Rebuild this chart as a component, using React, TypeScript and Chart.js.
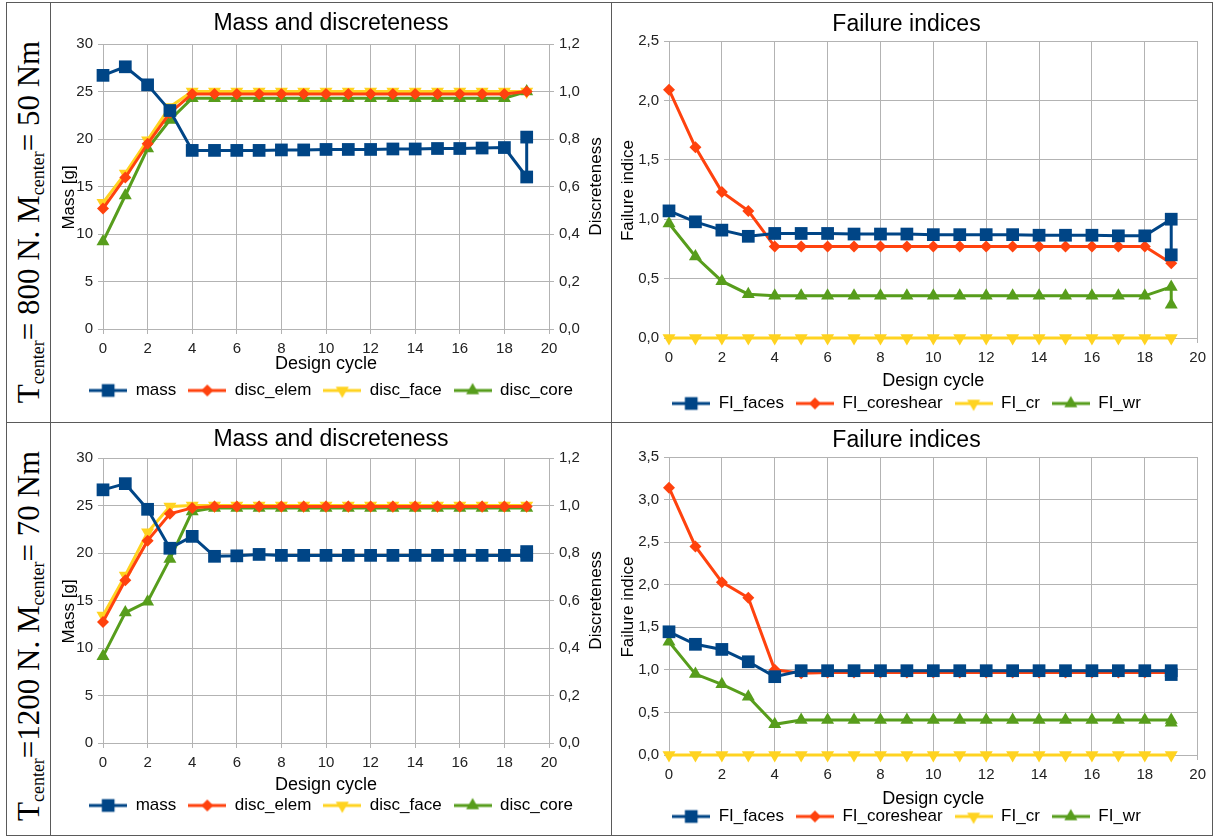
import React, { useEffect, useRef } from "react";
import { Chart, registerables } from "chart.js";
Chart.register(...registerables);

const BLUE = "#004586";
const ORANGE = "#ff420e";
const YELLOW = "#ffd320";
const GREEN = "#579d1c";
const GRID = "#b3b3b3";
const FONT = "'Liberation Sans', Arial, sans-serif";

// ---------- data ----------
const cycles = [0, 1, 2, 3, 4, 5, 6, 7, 8, 9, 10, 11, 12, 13, 14, 15, 16, 17, 18, 19];
const cyclesDup = [0, 1, 2, 3, 4, 5, 6, 7, 8, 9, 10, 11, 12, 13, 14, 15, 16, 17, 18, 19, 19];

// top-left: Mass and discreteness (800 N, 50 Nm)
const tlMass = [26.7, 27.6, 25.7, 23.0, 18.8, 18.8, 18.8, 18.8, 18.85, 18.85, 18.9, 18.9, 18.9, 18.95, 18.95, 19.0, 19.0, 19.05, 19.1, 16.0, 20.2];
const tlDiscElem = [0.507, 0.638, 0.78, 0.91, 0.99, 0.99, 0.99, 0.99, 0.99, 0.99, 0.99, 0.99, 0.99, 0.99, 0.99, 0.99, 0.99, 0.99, 0.99, 1.0];
const tlDiscFace = [0.532, 0.655, 0.795, 0.935, 1.0, 1.0, 1.0, 1.0, 1.0, 1.0, 1.0, 1.0, 1.0, 1.0, 1.0, 1.0, 1.0, 1.0, 1.0, 1.0];
const tlDiscCore = [0.368, 0.562, 0.76, 0.88, 0.972, 0.972, 0.972, 0.972, 0.972, 0.972, 0.972, 0.972, 0.972, 0.972, 0.972, 0.972, 0.972, 0.972, 0.972, 1.0];

// top-right: Failure indices (800 N, 50 Nm)
const trFaces = [1.07, 0.978, 0.908, 0.856, 0.88, 0.88, 0.88, 0.875, 0.875, 0.875, 0.87, 0.87, 0.87, 0.87, 0.865, 0.865, 0.865, 0.86, 0.86, 1.0, 0.7];
const trCoreshear = [2.09, 1.605, 1.23, 1.07, 0.77, 0.77, 0.77, 0.77, 0.77, 0.77, 0.77, 0.77, 0.77, 0.77, 0.77, 0.77, 0.77, 0.77, 0.77, 0.63];
const trCr = [0, 0, 0, 0, 0, 0, 0, 0, 0, 0, 0, 0, 0, 0, 0, 0, 0, 0, 0, 0];
const trWr = [0.964, 0.686, 0.478, 0.369, 0.355, 0.355, 0.355, 0.355, 0.355, 0.355, 0.355, 0.355, 0.355, 0.355, 0.355, 0.355, 0.355, 0.355, 0.355, 0.43, 0.28];

// bottom-left: Mass and discreteness (1200 N, 70 Nm)
const blMass = [26.65, 27.3, 24.6, 20.5, 21.75, 19.65, 19.7, 19.85, 19.75, 19.75, 19.75, 19.75, 19.75, 19.75, 19.75, 19.75, 19.75, 19.75, 19.75, 19.75, 20.15];
const blDiscElem = [0.51, 0.685, 0.852, 0.965, 0.99, 0.996, 0.996, 0.996, 0.996, 0.996, 0.996, 0.996, 0.996, 0.996, 0.996, 0.996, 0.996, 0.996, 0.996, 0.996];
const blDiscFace = [0.537, 0.705, 0.887, 0.996, 1.0, 1.0, 1.0, 1.0, 1.0, 1.0, 1.0, 1.0, 1.0, 1.0, 1.0, 1.0, 1.0, 1.0, 1.0, 1.0];
const blDiscCore = [0.365, 0.549, 0.595, 0.775, 0.975, 0.99, 0.99, 0.99, 0.99, 0.99, 0.99, 0.99, 0.99, 0.99, 0.99, 0.99, 0.99, 0.99, 0.99, 0.99];

// bottom-right: Failure indices (1200 N, 70 Nm)
const brFaces = [1.447, 1.3, 1.24, 1.095, 0.92, 0.99, 0.99, 0.99, 0.99, 0.99, 0.99, 0.99, 0.99, 0.99, 0.99, 0.99, 0.99, 0.99, 0.99, 0.99, 0.945];
const brCoreshear = [3.14, 2.45, 2.03, 1.846, 1.0, 0.96, 0.97, 0.97, 0.97, 0.97, 0.97, 0.97, 0.97, 0.97, 0.97, 0.97, 0.97, 0.97, 0.97, 0.97];
const brCr = [0, 0, 0, 0, 0, 0, 0, 0, 0, 0, 0, 0, 0, 0, 0, 0, 0, 0, 0, 0];
const brWr = [1.33, 0.95, 0.83, 0.685, 0.36, 0.41, 0.41, 0.41, 0.41, 0.41, 0.41, 0.41, 0.41, 0.41, 0.41, 0.41, 0.41, 0.41, 0.41, 0.41, 0.38];

const massLabels = ["mass", "disc_elem", "disc_face", "disc_core"];
const fiLabels = ["FI_faces", "FI_coreshear", "FI_cr", "FI_wr"];

// ---------- helpers ----------
type Series = { label: string; xs: number[]; ys: number[]; color: string; style: string; rot: number; r: number; axis: string };

function drawMarker(ctx: CanvasRenderingContext2D, style: string, rot: number, r: number, x: number, y: number) {
  ctx.beginPath();
  if (style === "rect") {
    const s = Math.SQRT1_2 * r;
    ctx.rect(x - s, y - s, 2 * s, 2 * s);
  } else if (style === "rectRot") {
    ctx.moveTo(x, y - r);
    ctx.lineTo(x + r, y);
    ctx.lineTo(x, y + r);
    ctx.lineTo(x - r, y);
    ctx.closePath();
  } else {
    let a = (rot * Math.PI) / 180;
    for (let i = 0; i < 3; i++) {
      const px = x + Math.sin(a) * r;
      const py = y - Math.cos(a) * r;
      if (i === 0) ctx.moveTo(px, py);
      else ctx.lineTo(px, py);
      a += (2 * Math.PI) / 3;
    }
    ctx.closePath();
  }
  ctx.fill();
}

function makeIcon(s: Series) {
  const c = document.createElement("canvas");
  c.width = 38;
  c.height = 18;
  const ctx = c.getContext("2d")!;
  ctx.strokeStyle = s.color;
  ctx.lineWidth = 3;
  ctx.beginPath();
  ctx.moveTo(0, 9);
  ctx.lineTo(38, 9);
  ctx.stroke();
  ctx.fillStyle = s.color;
  drawMarker(ctx, s.style, s.rot, s.r, 19, 9);
  return c;
}

const fmtComma = (v: number) => v.toFixed(1).replace(".", ",");

type AxisSpec = { min: number; max: number; step: number; title: string; titleSize: number; comma: boolean; width: number; titleX: number; titleShift: number };

type PanelSpec = {
  title: string;
  pt: number;
  titlePadBottom: number;
  pl: number;
  pr: number;
  pb: number;
  hX: number;
  xTitlePad: number;
  yLeft: AxisSpec;
  yRight?: AxisSpec;
  series: Series[];
};

function buildConfig(p: PanelSpec): any {
  const icons = p.series.map(makeIcon);
  const scales: any = {
    x: {
      type: "linear",
      min: 0,
      max: 20,
      ticks: { stepSize: 2, color: "#222", font: { size: 15, family: FONT }, padding: 6, maxRotation: 0 },
      grid: { color: GRID, tickLength: 5, lineWidth: 1 },
      border: { color: GRID },
      title: { display: true, text: "Design cycle", color: "#000", font: { size: 18, family: FONT }, padding: { top: 0, bottom: p.xTitlePad } },
      afterFit: (s: any) => { s.height = p.hX; },
    },
    y: {
      type: "linear",
      position: "left",
      min: p.yLeft.min,
      max: p.yLeft.max,
      ticks: {
        stepSize: p.yLeft.step,
        color: "#222",
        font: { size: 15, family: FONT },
        padding: 5,
        callback: (v: number) => (p.yLeft.comma ? fmtComma(v) : String(v)),
      },
      grid: { color: GRID, tickLength: 5 },
      border: { color: GRID },
      title: { display: false },
      afterFit: (s: any) => { s.width = p.yLeft.width; },
    },
  };
  if (p.yRight) {
    const yr = p.yRight;
    scales.y1 = {
      type: "linear",
      position: "right",
      min: yr.min,
      max: yr.max,
      ticks: {
        stepSize: yr.step,
        color: "#222",
        font: { size: 15, family: FONT },
        padding: 5,
        callback: (v: number) => (yr.comma ? fmtComma(v) : String(v)),
      },
      grid: { color: GRID, tickLength: 5, drawOnChartArea: false },
      border: { color: GRID },
      title: { display: false },
      afterFit: (s: any) => { s.width = yr.width; },
    };
  }
  // axis titles, both read bottom-to-top as in the original
  const axisTitlePlugin = {
    id: "axisTitles",
    afterDraw(chart: any) {
      const ctx = chart.ctx;
      const midY = (chart.chartArea.top + chart.chartArea.bottom) / 2;
      const drawV = (text: string, x: number, y: number, size: number) => {
        ctx.save();
        ctx.translate(x, y);
        ctx.rotate(-Math.PI / 2);
        ctx.fillStyle = "#000";
        ctx.font = `${size}px ${FONT}`;
        ctx.textAlign = "center";
        ctx.textBaseline = "middle";
        ctx.fillText(text, 0, 0);
        ctx.restore();
      };
      const yl = chart.scales.y;
      drawV(p.yLeft.title, yl.left + p.yLeft.titleX, midY + p.yLeft.titleShift, p.yLeft.titleSize);
      if (p.yRight) {
        const s = chart.scales.y1;
        drawV(p.yRight.title, s.right - p.yRight.titleX, midY + p.yRight.titleShift, p.yRight.titleSize);
      }
    },
  };
  return {
    type: "scatter",
    data: {
      datasets: p.series.map((s) => ({
        label: s.label,
        data: s.xs.map((x, i) => ({ x, y: s.ys[i] })),
        showLine: true,
        clip: false,
        borderColor: s.color,
        backgroundColor: s.color,
        borderWidth: 3,
        pointStyle: s.style,
        pointRotation: s.rot,
        pointRadius: s.r,
        pointBorderWidth: 0,
        pointBackgroundColor: s.color,
        yAxisID: s.axis,
        tension: 0,
      })),
    },
    options: {
      animation: false,
      responsive: false,
      events: [],
      layout: { padding: { left: p.pl, right: p.pr, top: p.pt, bottom: p.pb } },
      scales,
      plugins: {
        title: { display: true, text: p.title, color: "#000", font: { size: 23, weight: "normal", family: FONT }, padding: { top: 0, bottom: p.titlePadBottom } },
        legend: {
          display: true,
          position: "bottom",
          labels: {
            usePointStyle: true,
            pointStyleWidth: 38,
            padding: 12,
            color: "#000",
            font: { size: 17, family: FONT },
            generateLabels: (chart: any) =>
              chart.data.datasets.map((ds: any, i: number) => ({
                text: ds.label,
                pointStyle: icons[i],
                rotation: 0,
                datasetIndex: i,
                hidden: false,
                fillStyle: ds.borderColor,
                strokeStyle: ds.borderColor,
                lineWidth: 0,
                fontColor: "#000",
              })),
          },
        },
        tooltip: { enabled: false },
      },
    },
    plugins: [axisTitlePlugin],
  };
}

function massSeries(mass: number[], elem: number[], face: number[], core: number[]): Series[] {
  return [
    { label: massLabels[0], xs: cyclesDup, ys: mass, color: BLUE, style: "rect", rot: 0, r: 9, axis: "y" },
    { label: massLabels[1], xs: cycles, ys: elem, color: ORANGE, style: "rectRot", rot: 0, r: 6, axis: "y1" },
    { label: massLabels[2], xs: cycles, ys: face, color: YELLOW, style: "triangle", rot: 180, r: 7.5, axis: "y1" },
    { label: massLabels[3], xs: cycles, ys: core, color: GREEN, style: "triangle", rot: 0, r: 7.5, axis: "y1" },
  ];
}

function fiSeries(faces: number[], core: number[], cr: number[], wr: number[]): Series[] {
  return [
    { label: fiLabels[0], xs: cyclesDup, ys: faces, color: BLUE, style: "rect", rot: 0, r: 9, axis: "y" },
    { label: fiLabels[1], xs: cycles, ys: core, color: ORANGE, style: "rectRot", rot: 0, r: 6, axis: "y" },
    { label: fiLabels[2], xs: cycles, ys: cr, color: YELLOW, style: "triangle", rot: 180, r: 7.5, axis: "y" },
    { label: fiLabels[3], xs: cyclesDup, ys: wr, color: GREEN, style: "triangle", rot: 0, r: 7.5, axis: "y" },
  ];
}

const massAxis = (): AxisSpec => ({ min: 0, max: 30, step: 5, title: "Mass [g]", titleSize: 17, comma: false, width: 52, titleX: 18, titleShift: 11 });
const discAxis = (): AxisSpec => ({ min: 0, max: 1.2, step: 0.2, title: "Discreteness", titleSize: 17, comma: true, width: 62, titleX: 15, titleShift: 0 });

const panels: { left: number; top: number; width: number; height: number; spec: PanelSpec }[] = [
  {
    left: 51, top: 3, width: 560, height: 419,
    spec: {
      title: "Mass and discreteness", pt: 7, titlePadBottom: 6.4, pl: 0, pr: 0, pb: 13, hX: 41, xTitlePad: -5,
      yLeft: massAxis(), yRight: discAxis(),
      series: massSeries(tlMass, tlDiscElem, tlDiscFace, tlDiscCore),
    },
  },
  {
    left: 612, top: 3, width: 600, height: 419,
    spec: {
      title: "Failure indices", pt: 8, titlePadBottom: 2.4, pl: 0, pr: 11, pb: 0, hX: 45, xTitlePad: -9,
      yLeft: { min: 0, max: 2.5, step: 0.5, title: "Failure indice", titleSize: 17, comma: true, width: 57, titleX: 16, titleShift: 1 },
      series: fiSeries(trFaces, trCoreshear, trCr, trWr),
    },
  },
  {
    left: 51, top: 423, width: 560, height: 412,
    spec: {
      title: "Mass and discreteness", pt: 3, titlePadBottom: 4.4, pl: 0, pr: 0, pb: 11, hX: 42, xTitlePad: -11,
      yLeft: massAxis(), yRight: discAxis(),
      series: massSeries(blMass, blDiscElem, blDiscFace, blDiscCore),
    },
  },
  {
    left: 612, top: 423, width: 600, height: 412,
    spec: {
      title: "Failure indices", pt: 4, titlePadBottom: 2.4, pl: 0, pr: 11, pb: 0, hX: 41, xTitlePad: -14,
      yLeft: { min: 0, max: 3.5, step: 0.5, title: "Failure indice", titleSize: 17, comma: true, width: 57, titleX: 16, titleShift: 1 },
      series: fiSeries(brFaces, brCoreshear, brCr, brWr),
    },
  },
];

function Panel(props: { left: number; top: number; width: number; height: number; spec: PanelSpec }) {
  const ref = useRef<HTMLCanvasElement>(null);
  useEffect(() => {
    if (!ref.current) return;
    const chart = new Chart(ref.current, buildConfig(props.spec));
    return () => chart.destroy();
  }, []);
  return (
    <canvas
      ref={ref}
      width={props.width}
      height={props.height}
      style={{ position: "absolute", left: props.left, top: props.top, width: props.width, height: props.height }}
    />
  );
}

const LINE = "#5a5a5a";

function RowLabel(props: { cy: number; force: string; moment: string }) {
  const sub: React.CSSProperties = { fontSize: "18px", verticalAlign: "-5px" };
  return (
    <div
      style={{
        position: "absolute",
        left: 29 - 230,
        top: props.cy - 20,
        width: 460,
        height: 40,
        lineHeight: "40px",
        transform: "rotate(-90deg)",
        textAlign: "center",
        whiteSpace: "nowrap",
        fontFamily: "'Liberation Serif', 'Times New Roman', serif",
        fontSize: "31px",
        color: "#000",
      }}
    >
      T<span style={sub}>center</span>={props.force} N. M<span style={sub}>center</span>= {props.moment} Nm
    </div>
  );
}

export default function App() {
  return (
    <div style={{ position: "absolute", left: 0, top: 0, width: 1215, height: 837, background: "#fff", overflow: "hidden" }}>
      {/* table borders */}
      <div style={{ position: "absolute", left: 6, top: 2, width: 1207, height: 834, border: `1px solid ${LINE}`, boxSizing: "border-box" }} />
      <div style={{ position: "absolute", left: 50, top: 2, width: 1, height: 834, background: LINE }} />
      <div style={{ position: "absolute", left: 611, top: 2, width: 1, height: 834, background: LINE }} />
      <div style={{ position: "absolute", left: 6, top: 422, width: 1207, height: 1, background: LINE }} />
      <RowLabel cy={222} force=" 800" moment="50" />
      <RowLabel cy={636} force="1200" moment="70" />
      {panels.map((p, i) => (
        <Panel key={i} {...p} />
      ))}
    </div>
  );
}
